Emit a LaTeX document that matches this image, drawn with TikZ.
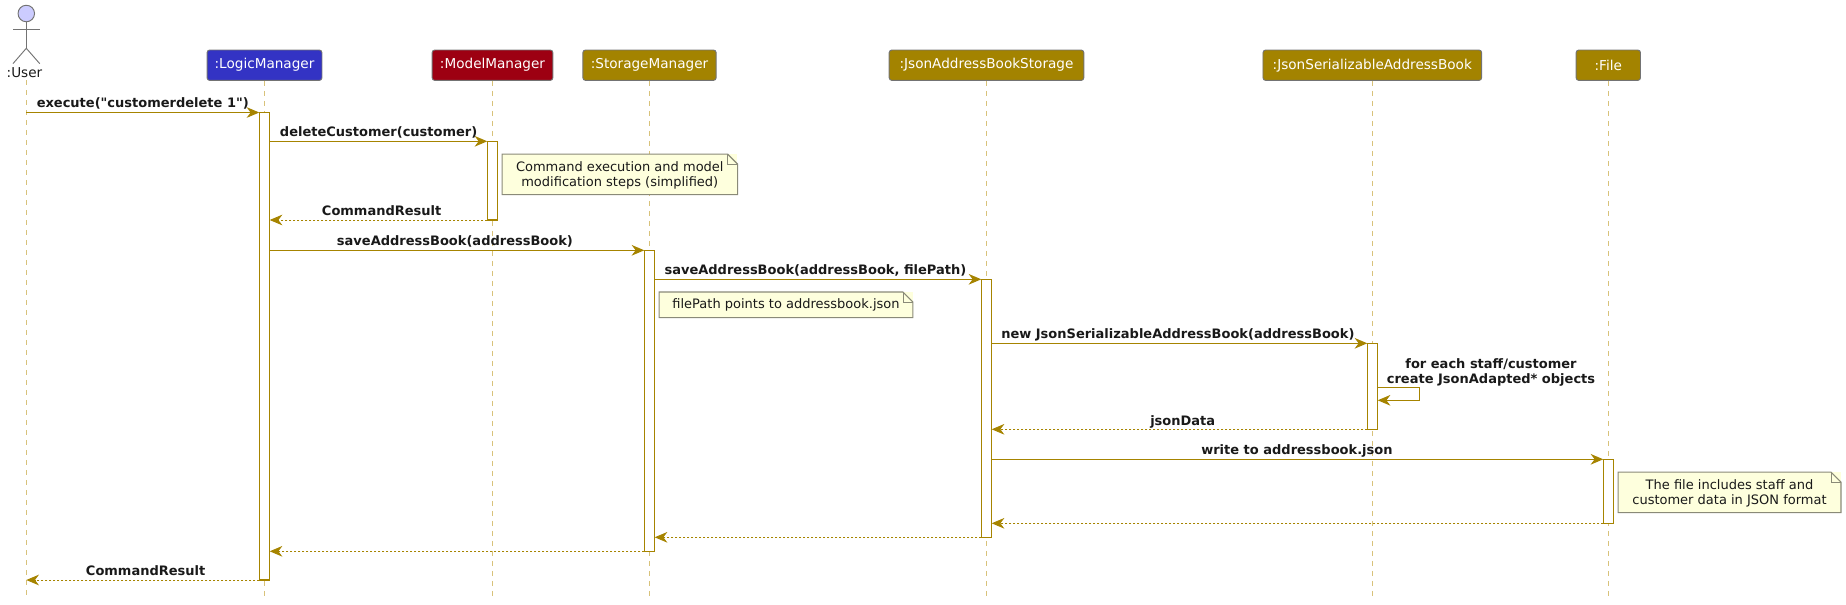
\documentclass[tikz,border=0pt]{standalone}
\usepackage{fontspec}
\setmainfont{DejaVu Sans}[Ligatures=TeXOff]
\usetikzlibrary{arrows.meta, calc}
\definecolor{seqline}{HTML}{A68400}
\definecolor{seqfill}{HTML}{A38300}
\definecolor{seqdash}{HTML}{D8C27A}
\definecolor{logicblue}{HTML}{3333C4}
\definecolor{modelred}{HTML}{9D0012}
\definecolor{notefill}{HTML}{FEFFDD}
\definecolor{notedraw}{HTML}{8A8A78}
\tikzstyle{head} = [rectangle, rounded corners=2pt, draw=black!55, line width=0.7pt, text=white, minimum height=22.8pt, inner sep=0pt, font=\fontsize{10.2pt}{12pt}\selectfont]
\tikzstyle{lifeline} = [seqdash, line width=0.7pt, dash pattern=on 3.75pt off 3.75pt]
\tikzstyle{bar} = [rectangle, draw=seqline, fill=white, line width=0.85pt, minimum width=7.8pt, inner sep=0pt, outer sep=0pt, anchor=north]
\tikzstyle{call} = [seqline, line width=0.85pt, -{Stealth[length=9.5pt, width=8pt, inset=3pt]}]
\tikzstyle{back} = [seqline, line width=0.65pt, dash pattern=on 1.5pt off 1.5pt, -{Stealth[length=9.5pt, width=8pt, inset=3pt]}]
\tikzstyle{msg} = [anchor=base west, inner sep=0pt, font=\fontsize{9.75pt}{11.25pt}\selectfont\bfseries, text=black!90]
\tikzstyle{note} = [rectangle, fill=notefill, inner sep=0pt, align=center, font=\fontsize{9.75pt}{11.25pt}\selectfont, text=black!90]
\tikzstyle{actor} = [black!55, line width=0.7pt]
\newcommand{\notefold}[1]{
	\draw[notedraw, line width=0.8pt] ([xshift=-7.5pt]#1.north east) -- (#1.north west) -- (#1.south west) -- (#1.south east) -- ([yshift=-7.5pt]#1.north east) -- cycle;
	\draw[notedraw, line width=0.6pt] ([xshift=-7.5pt]#1.north east) |- ([yshift=-7.5pt]#1.north east);
}

\begin{document}
\begin{tikzpicture}[x=0.75pt, y=-0.75pt]
	\useasboundingbox (0,0) rectangle (1846,604);

	% Actor
	\node (user_head) [circle, draw=black!55, fill=blue!20, line width=0.7pt, minimum size=12.4pt, inner sep=0pt] at (26.3,13.5) {};
	\coordinate (user_hip) at (26.3,48.3);
	\coordinate (user_arm_l) at (13,29.3);
	\coordinate (user_arm_r) at (39.7,29.3);
	\coordinate (user_foot_l) at (13,63.6);
	\coordinate (user_foot_r) at (39.7,63.6);
	\draw[actor] (user_head) -- (user_hip);
	\draw[actor] (user_arm_l) -- (user_arm_r);
	\draw[actor] (user_foot_l) -- (user_hip) -- (user_foot_r);
	\node (user) [inner sep=0pt, anchor=base, text=black!90, font=\fontsize{10.2pt}{12pt}\selectfont] at (24.5,77.5) {:User};

	% Participants
	\node (logic) [head, fill=logicblue, minimum width=86.2pt] at (264.5,65.2) {:LogicManager};
	\node (model) [head, fill=modelred, minimum width=90.6pt] at (492.5,65.2) {:ModelManager};
	\node (storage) [head, fill=seqfill, minimum width=100pt] at (649.5,65.2) {:StorageManager};
	\node (jas) [head, fill=seqfill, minimum width=146pt] at (986.5,65.2) {:JsonAddressBookStorage};
	\node (jsab) [head, fill=seqfill, minimum width=164pt] at (1372.3,65.2) {:JsonSerializableAddressBook};
	\node (file) [head, fill=seqfill, minimum width=48.3pt] at (1608.3,65.2) {:File};

	% Lifelines
	\coordinate (user_top) at (26.3,80);
	\coordinate (user_end) at (26.3,597);
	\coordinate (logic_end) at (264.5,597);
	\coordinate (model_end) at (492.5,597);
	\coordinate (storage_end) at (649.5,597);
	\coordinate (jas_end) at (986.5,597);
	\coordinate (jsab_end) at (1372.3,597);
	\coordinate (file_end) at (1608.3,597);
	\draw[lifeline] (user_top) -- (user_end);
	\draw[lifeline] (logic) -- (logic_end);
	\draw[lifeline] (model) -- (model_end);
	\draw[lifeline] (storage) -- (storage_end);
	\draw[lifeline] (jas) -- (jas_end);
	\draw[lifeline] (jsab) -- (jsab_end);
	\draw[lifeline] (file) -- (file_end);

	% Activation bars
	\node (logic_bar) [bar, minimum height=350.6pt] at (264.5,112.5) {};
	\node (model_bar) [bar, minimum height=59pt] at (492.5,141.3) {};
	\node (storage_bar) [bar, minimum height=225.8pt] at (649.5,250.3) {};
	\node (jas_bar) [bar, minimum height=193.5pt] at (986.5,279.3) {};
	\node (jsab_bar) [bar, minimum height=64.5pt] at (1372.5,343.3) {};
	\node (file_bar) [bar, minimum height=48pt] at (1608.5,459.3) {};

	% Notes
	\node (note_model) [note, text depth=0pt, minimum width=176.2pt, minimum height=30pt] at (619.8,174.3) {Command execution and model\\modification steps (simplified)};
	\node (note_path) [note, minimum width=190pt, minimum height=18.8pt] at (786,304.8) {filePath points to addressbook.json};
	\node (note_file) [note, text depth=0pt, minimum width=166.8pt, minimum height=30pt] at (1729.5,492.3) {The file includes staff and\\customer data in JSON format};
	\notefold{note_model}
	\notefold{note_path}
	\notefold{note_file}

	% Messages
	\draw[call] (user_top |- 0,112.5) -- (logic_bar.west |- 0,112.5);
	\draw[call] (logic_bar.east |- 0,141.3) -- (model_bar.west |- 0,141.3);
	\draw[back] (model_bar.west |- 0,220) -- (logic_bar.east |- 0,220);
	\draw[call] (logic_bar.east |- 0,250.3) -- (storage_bar.west |- 0,250.3);
	\draw[call] (storage_bar.east |- 0,279.3) -- (jas_bar.west |- 0,279.3);
	\draw[call] (jas_bar.east |- 0,343.3) -- (jsab_bar.west |- 0,343.3);
	\draw[call] (jsab_bar.east |- 0,387.3) -- ++(42,0) -- ++(0,13) -- (jsab_bar.east |- 0,400.3);
	\draw[back] (jsab_bar.west |- 0,429.3) -- (jas_bar.east |- 0,429.3);
	\draw[call] (jas_bar.east |- 0,459.3) -- (file_bar.west |- 0,459.3);
	\draw[back] (file_bar.west |- 0,523.3) -- (jas_bar.east |- 0,523.3);
	\draw[back] (jas_bar.west |- 0,537.3) -- (storage_bar.east |- 0,537.3);
	\draw[back] (storage_bar.west |- 0,551.3) -- (logic_bar.east |- 0,551.3);
	\draw[back] (logic_bar.west |- 0,580) -- (user_top |- 0,580);

	% Message labels
	\node (lbl_execute) [msg] at (36.5,107.3) {execute("customerdelete 1")};
	\node (lbl_delete) [msg] at (279.7,136) {deleteCustomer(customer)};
	\node (lbl_result_model) [msg] at (321.7,215.7) {CommandResult};
	\node (lbl_save_storage) [msg] at (336.7,245) {saveAddressBook(addressBook)};
	\node (lbl_save_jas) [msg] at (664.3,274) {saveAddressBook(addressBook, filePath)};
	\node (lbl_new) [msg] at (1001,338) {new JsonSerializableAddressBook(addressBook)};
	\node (lbl_each) [msg, anchor=base, align=center] at (1491,383.3) {for each staff/customer\\create JsonAdapted* objects};
	\node (lbl_data) [msg] at (1150,425.7) {jsonData};
	\node (lbl_write) [msg] at (1201,454.3) {write to addressbook.json};
	\node (lbl_result_user) [msg] at (85.7,575) {CommandResult};

\end{tikzpicture}
\end{document}
